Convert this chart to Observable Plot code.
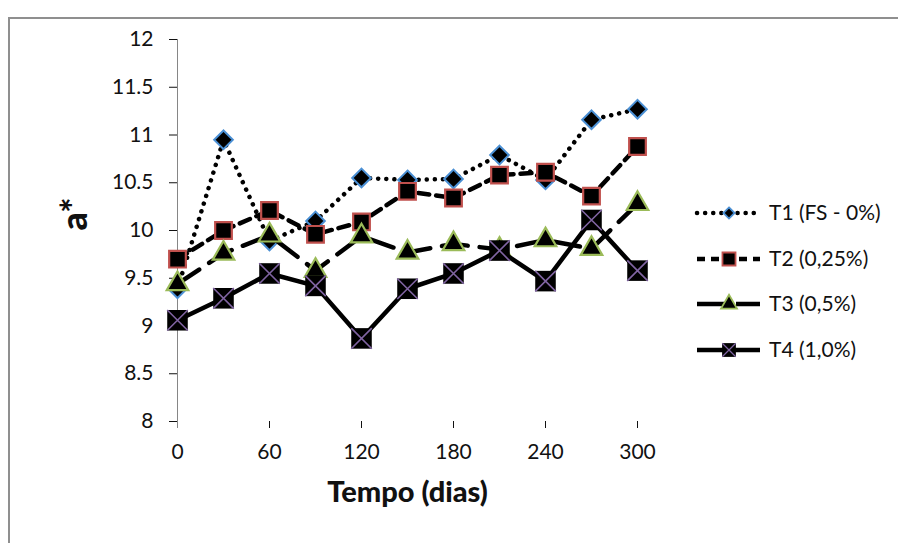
<!DOCTYPE html>
<html>
<head>
<meta charset="utf-8">
<script src="https://cdn.jsdelivr.net/npm/d3@7"></script>
<script src="https://cdn.jsdelivr.net/npm/@observablehq/plot@0.6"></script>
<style>
  html, body { margin: 0; padding: 0; background: #fff; }
  #wrap { position: relative; width: 898px; height: 543px; overflow: hidden; background: #fff; font-family: Lato, "Open Sans", sans-serif; }
  #frame { position: absolute; left: 8px; top: 17px; width: 900px; height: 540px; border-left: 2px solid #8f8f8f; border-top: 2px solid #8f8f8f; pointer-events: none; }
  #wrap svg.plot [aria-label="y-axis tick"] path,
  #wrap svg.plot [aria-label="x-axis tick"] path { stroke: #868686; }
  #legend { position: absolute; left: 690px; top: 190px; }
</style>
</head>
<body>
<div id="wrap"><div id="chart"></div><svg id="legend" width="208" height="180"></svg><div id="frame"></div></div>
<script>
// ---- data ----
const days = [0, 30, 60, 90, 120, 150, 180, 210, 240, 270, 300];
const t1 = [9.39, 10.95, 9.89, 10.10, 10.55, 10.53, 10.54, 10.79, 10.53, 11.16, 11.27];
const t2 = [9.70, 10.00, 10.21, 9.96, 10.09, 10.41, 10.34, 10.58, 10.61, 10.36, 10.88];
const t3 = [9.44, 9.76, 9.95, 9.58, 9.94, 9.77, 9.86, 9.80, 9.90, 9.81, 10.28];
const t4 = [9.06, 9.29, 9.55, 9.42, 8.87, 9.39, 9.55, 9.79, 9.47, 10.11, 9.58];
const seriesNames = ["T1 (FS - 0%)", "T2 (0,25%)", "T3 (0,5%)", "T4 (1,0%)"];
const xTicks = [0, 60, 120, 180, 240, 300];
const yTicks = [8, 8.5, 9, 9.5, 10, 10.5, 11, 11.5, 12];
const xLabel = "Tempo (dias)";
const yLabel = "a*";

const mk = (vals) => days.map((d, i) => ({day: d, v: vals[i]}));
const d1 = mk(t1), d2 = mk(t2), d3s = mk(t3), d4 = mk(t4);

const styles = {
  dash1: "0.1 8", dash2: "11 7", dash3: "26 12",
  blue: "#4a8fd4", red: "#c0504d", green: "#9bbb59", purple: "#8064a2"
};

const chart = Plot.plot({
  width: 898,
  height: 543,
  marginLeft: 177,
  marginRight: 261,
  marginTop: 39,
  marginBottom: 122,
  style: {background: "transparent", fontFamily: "Lato, 'Open Sans', sans-serif", fontSize: "21px", color: "#111"},
  x: {domain: [0, 300]},
  y: {domain: [8, 12]},
  marks: [
    Plot.axisY({ticks: yTicks, tickSize: 8, tickPadding: 16, tickFormat: d => String(d), label: null, fontSize: 21}),
    Plot.axisX({ticks: xTicks, tickSize: 7, tickPadding: 16, tickFormat: d => String(d), label: null, fontSize: 21}),
    Plot.ruleX([0], {stroke: "#868686", strokeWidth: 1, insetBottom: -7}),
    // T1
    Plot.line(d1, {x: "day", y: "v", stroke: "black", strokeWidth: 4.5, strokeDasharray: styles.dash1, strokeLinecap: "round"}),
    Plot.dot(d1, {x: "day", y: "v", symbol: "diamond2", r: 8.4, fill: "black", stroke: styles.blue, strokeWidth: 2}),
    // T2
    Plot.line(d2, {x: "day", y: "v", stroke: "black", strokeWidth: 4.5, strokeDasharray: styles.dash2}),
    Plot.dot(d2, {x: "day", y: "v", symbol: "square", r: 9.4, fill: "black", stroke: styles.red, strokeWidth: 2.2}),
    // T3
    Plot.line(d3s, {x: "day", y: "v", stroke: "black", strokeWidth: 4.5, strokeDasharray: styles.dash3}),
    Plot.dot(d3s, {x: "day", y: "v", symbol: "triangle", r: 8, fill: "black", stroke: styles.green, strokeWidth: 2.2}),
    // T4
    Plot.line(d4, {x: "day", y: "v", stroke: "black", strokeWidth: 4.5}),
    Plot.dot(d4, {x: "day", y: "v", symbol: "square", r: 11.6, fill: "black"}),
    Plot.dot(d4, {x: "day", y: "v", symbol: "times", r: 9.4, fill: "none", stroke: styles.purple, strokeWidth: 1.6}),
    // axis titles
    Plot.text([xLabel], {frameAnchor: "bottom", dy: 80, fontSize: 29, fontWeight: 900, fill: "#111"}),
    Plot.text([yLabel], {frameAnchor: "left", dx: -102, rotate: -90, fontSize: 36, fontWeight: 900, fill: "#111"})
  ]
});
document.getElementById("chart").appendChild(chart);

// ---- legend ----
const leg = d3.select("#legend");
const rowsY = [23, 69, 114, 160];
const lx0 = 7, lx1 = 70, mx = 39;
const legendDefs = [
  {dash: styles.dash1, cap: "round", sym: d3.symbolDiamond2, size: 80, fill: "black", stroke: styles.blue},
  {dash: "8 6", cap: "butt", sym: d3.symbolSquare, size: 170, fill: "black", stroke: styles.red},
  {dash: "30 9", cap: "butt", sym: d3.symbolTriangle, size: 110, fill: "black", stroke: styles.green},
  {dash: null, cap: "butt", sym: d3.symbolSquare, size: 190, fill: "black", stroke: "none", cross: true}
];
legendDefs.forEach((s, i) => {
  const g = leg.append("g").attr("transform", `translate(0,${rowsY[i]})`);
  g.append("line").attr("x1", lx0).attr("x2", lx1).attr("y1", 0).attr("y2", 0)
    .attr("stroke", "black").attr("stroke-width", 4.5)
    .attr("stroke-dasharray", s.dash).attr("stroke-linecap", s.cap);
  g.append("path").attr("transform", `translate(${mx},0)`)
    .attr("d", d3.symbol(s.sym, s.size)()).attr("fill", s.fill).attr("stroke", s.stroke).attr("stroke-width", 1.8);
  if (s.cross) {
    g.append("path").attr("transform", `translate(${mx},0)`)
      .attr("d", d3.symbol(d3.symbolTimes, 120)()).attr("fill", "none").attr("stroke", styles.purple).attr("stroke-width", 1.2);
  }
  g.append("text").attr("x", 79).attr("y", 0).attr("dy", "0.35em")
    .attr("font-size", 21).attr("fill", "#111")
    .attr("font-family", "Lato, 'Open Sans', sans-serif").text(seriesNames[i]);
});
</script>
</body>
</html>
